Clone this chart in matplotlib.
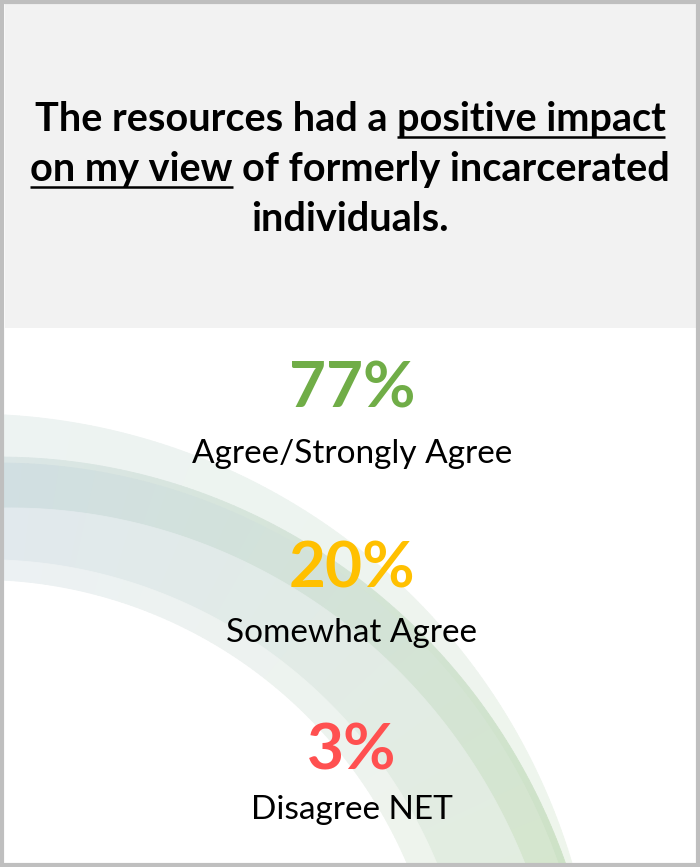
import numpy as np
import matplotlib.pyplot as plt
from matplotlib.patches import Rectangle, Polygon
from matplotlib.colors import to_rgb

plt.rcParams['font.family'] = ['Lato', 'DejaVu Sans']

# headline, split so the emphasised phrases can be underlined
title_lines = [
    "The resources had a positive impact",
    "on my view of formerly incarcerated",
    "individuals.",
]
underlined = ["positive impact", "on my view", None]
underline_at_end = [True, False, None]

percent_values = [77, 20, 3]
response_labels = ["Agree/Strongly Agree", "Somewhat Agree", "Disagree NET"]
percent_colors = ["#70ad47", "#ffc000", "#ff5050"]

W, H = 700, 867
fig = plt.figure(figsize=(W / 100, H / 100), dpi=100)
ax = fig.add_axes([0, 0, 1, 1])
ax.set_xlim(0, W)
ax.set_ylim(H, 0)
ax.axis('off')

# decorative swoosh: bands around a centre below-left of the card
cx, cy = -30.0, 1042.0
th_left, th_bottom = np.radians(86.5), np.radians(16.2)
# (radius at left edge, radius at bottom edge) for each band boundary
edges = [(628, 628), (586, 622), (580, 615), (535, 584), (483, 501), (463, 473)]
band_colors = [
    ("#edf3f2", "#eef5ec"),
    ("#dbe6e6", "#cde2c6"),
    ("#d1dfe2", "#d5e6ce"),
    ("#e1e9ed", "#e2ede0"),
    ("#ecf1f3", "#eef4ec"),
]


def edge_radius(k, th):
    t = np.clip((th - th_bottom) / (th_left - th_bottom), 0, 1)
    r_l, r_b = edges[k]
    return r_b + (r_l - r_b) * t


thetas = np.linspace(np.radians(4), np.radians(100), 160)
for b, (c_left, c_bottom) in enumerate(band_colors):
    cl, cb = np.array(to_rgb(c_left)), np.array(to_rgb(c_bottom))
    for th0, th1 in zip(thetas[:-1], thetas[1:]):
        ths = np.linspace(th0, th1, 3)
        ro = edge_radius(b, ths)
        ri = edge_radius(b + 1, ths)
        pts = np.concatenate([
            np.column_stack([cx + ro * np.cos(ths), cy - ro * np.sin(ths)]),
            np.column_stack([cx + ri[::-1] * np.cos(ths[::-1]), cy - ri[::-1] * np.sin(ths[::-1])]),
        ])
        t = np.clip(((th0 + th1) / 2 - th_bottom) / (th_left - th_bottom), 0, 1)
        col = cb + (cl - cb) * t
        ax.add_patch(Polygon(pts, closed=True, facecolor=col, edgecolor=col, lw=0.6, zorder=1))

# header panel
ax.add_patch(Rectangle((5, 4), W - 8, 324, facecolor="#f2f2f2", edgecolor="none", zorder=2))

renderer = fig.canvas.get_renderer()
title_size = 28.5
baselines = [131, 181, 231]
for line, part, at_end, yb in zip(title_lines, underlined, underline_at_end, baselines):
    txt = ax.text(W / 2, yb, line, ha='center', va='baseline', fontsize=title_size,
                  fontweight='bold', color='black', zorder=5)
    if part is None:
        continue
    full = txt.get_window_extent(renderer)
    probe = ax.text(0, 0, part, fontsize=title_size, fontweight='bold')
    pw = probe.get_window_extent(renderer).width
    probe.remove()
    if at_end:
        x0, x1 = full.x1 - pw, full.x1
    else:
        x0, x1 = full.x0, full.x0 + pw
    ax.plot([x0, x1], [yb + 6, yb + 6], color='black', lw=1.8, solid_capstyle='butt', zorder=5)

# percentages with their response labels
pct_baselines = [407, 588, 770]
label_baselines = [463, 642, 819]
for val, lab, col, yp, yl in zip(percent_values, response_labels, percent_colors,
                                 pct_baselines, label_baselines):
    ax.text(352, yp, f"{val}%", ha='center', va='baseline', fontsize=46,
            fontweight='bold', color=col, zorder=5)
    ax.text(352, yl, lab, ha='center', va='baseline', fontsize=24,
            color='black', zorder=5)

# card frame
ax.add_patch(Rectangle((2, 2), W - 4, H - 4, facecolor='none', edgecolor="#bfbfbf",
                       lw=3, zorder=6))

fig.savefig("out.png", dpi=100)
